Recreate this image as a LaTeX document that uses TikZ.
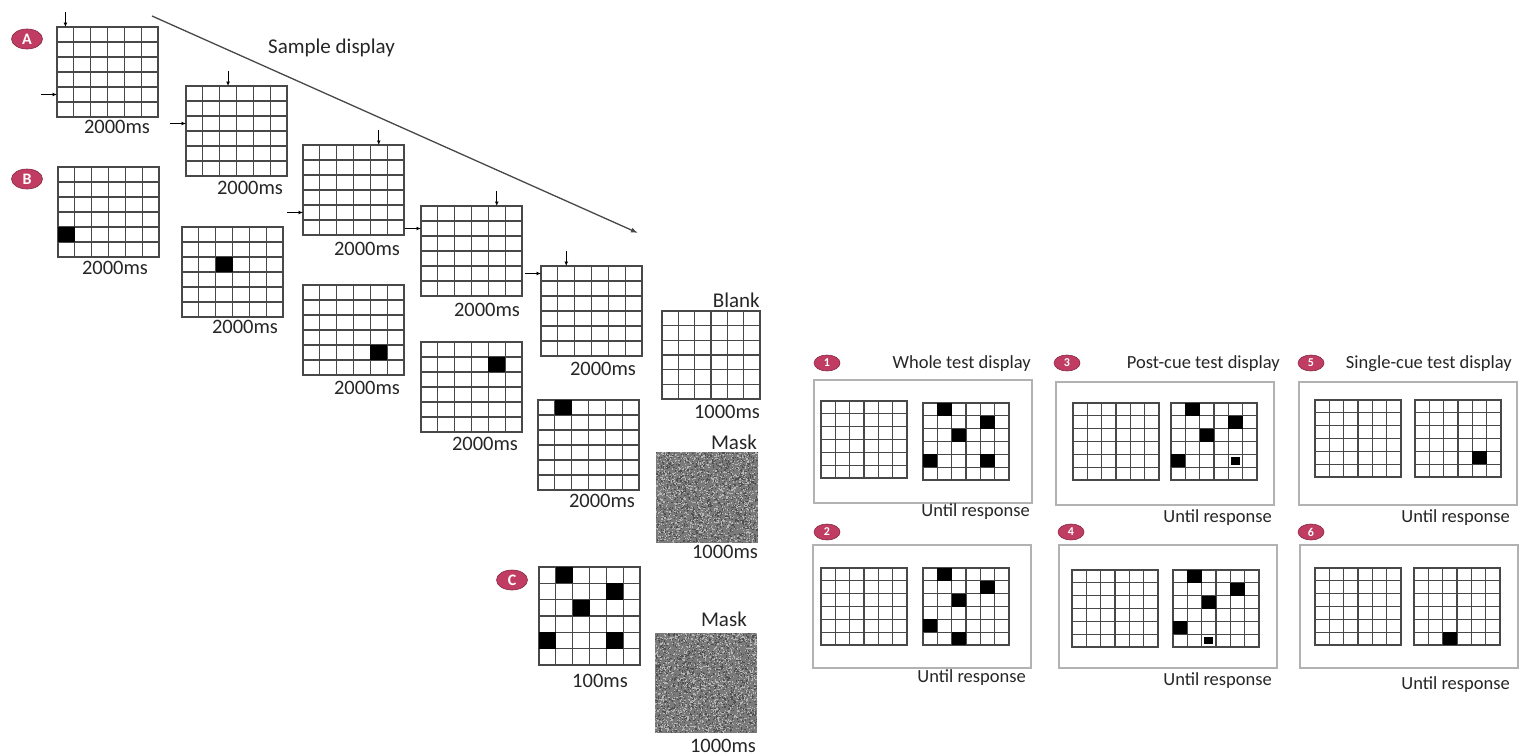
\documentclass[tikz,border=0pt]{standalone}
\usepackage{fontspec}
\setmainfont{Carlito}
\usetikzlibrary{arrows.meta,positioning,calc,shapes.geometric}

\definecolor{gridline}{RGB}{72,72,72}
\definecolor{boxline}{RGB}{178,178,178}
\definecolor{tagred}{RGB}{192,60,98}
\definecolor{noisebase}{RGB}{122,122,122}

\newcommand{\cuecell}[3]{%
  \fill[black] let \p1=(#1.north west), \p2=(#1.south east) in
    ({\x1+#3*(\x2-\x1)/6},{\y1-#2*(\y1-\y2)/6}) rectangle ({\x1+(#3+1)*(\x2-\x1)/6},{\y1-(#2+1)*(\y1-\y2)/6});}
\newcommand{\probecell}[3]{%
  \fill[black] let \p1=(#1.north west), \p2=(#1.south east) in
    ({\x1+(#3+0.18)*(\x2-\x1)/6},{\y1-(#2+0.2)*(\y1-\y2)/6}) rectangle ({\x1+(#3+0.82)*(\x2-\x1)/6},{\y1-(#2+0.8)*(\y1-\y2)/6});}
\newcommand{\colcue}[2]{%
  \draw[cuearrow] let \p1=(#1.north west), \p2=(#1.north east) in
    ({\x1+(#2+0.5)*(\x2-\x1)/6},{\y1+15pt}) -- ({\x1+(#2+0.5)*(\x2-\x1)/6},{\y1});}
\newcommand{\rowcue}[2]{%
  \draw[cuearrow] let \p1=(#1.north west), \p2=(#1.south west) in
    ({\x1-16pt},{\y1-(#2+0.5)*(\y1-\y2)/6}) -- ({\x1},{\y1-(#2+0.5)*(\y1-\y2)/6});}

\begin{document}
\begin{tikzpicture}[x=1pt,y=-1pt,
  gridbox/.style={draw=gridline, line width=1.3pt, fill=white, inner sep=0pt, outer sep=0pt, anchor=north west,
    path picture={
      \foreach \k in {1,...,5}{
        \draw[gridline, line width=1.3pt] ($(path picture bounding box.north west)!\k/6!(path picture bounding box.north east)$) -- ($(path picture bounding box.south west)!\k/6!(path picture bounding box.south east)$);
        \draw[gridline, line width=1.3pt] ($(path picture bounding box.north west)!\k/6!(path picture bounding box.south west)$) -- ($(path picture bounding box.north east)!\k/6!(path picture bounding box.south east)$);
      }}},
  biggrid/.style={gridbox, minimum width=101pt, minimum height=90pt},
  smallgrid/.style={gridbox, minimum width=86pt, minimum height=77pt},
  noisebox/.style={fill=noisebase, inner sep=0pt, outer sep=0pt, anchor=north west, minimum width=102pt,
    path picture={
      \foreach \k in {1,...,1600}{
        \fill[white!45!noisebase] ($(path picture bounding box.south west)+(rnd*102pt,rnd*100pt)$) rectangle ++(1.2pt,1.2pt);}
      \foreach \k in {1,...,1200}{
        \fill[black!35!noisebase] ($(path picture bounding box.south west)+(rnd*102pt,rnd*100pt)$) rectangle ++(1.2pt,1.2pt);}
    }},
  panel/.style={draw=boxline, line width=1.5pt, inner sep=0pt, anchor=north west, minimum width=218pt, minimum height=123pt},
  tag/.style={ellipse, fill=tagred, draw=tagred!70!black, line width=0.6pt, text=white, inner sep=0pt,
    minimum width=31pt, minimum height=20pt, font=\bfseries\fontsize{16}{16}\selectfont},
  numtag/.style={tag, minimum width=26pt, minimum height=16pt, font=\bfseries\fontsize{12}{12}\selectfont},
  timelbl/.style={anchor=base, inner sep=0pt, font=\fontsize{20.5}{24}\selectfont, text=black!85},
  headlbl/.style={anchor=base east, inner sep=0pt, font=\fontsize{21}{24}\selectfont, text=black!85},
  testlbl/.style={anchor=base east, inner sep=0pt, font=\fontsize{18.5}{22}\selectfont, text=black!85},
  cuearrow/.style={draw=black, line width=1pt, -{Latex[length=4.5pt,width=4pt]}}]
  \pgfmathsetseed{11}
  \fill[white] (0,0) rectangle (1531,755);
  \useasboundingbox (0,0) rectangle (1531,755);

  \node[tag] (tagA) at (27,39) {A};
  \node[tag] (tagB) at (27,179) {B};
  \node[tag] (tagC) at (512,580) {C};

  \node[biggrid] (a1) at (57,27) {};
  \node[biggrid] (a2) at (186,86) {};
  \node[biggrid] (a3) at (303,145) {};
  \node[biggrid] (a4) at (421,206) {};
  \node[biggrid] (a5) at (541,266) {};
  \colcue{a1}{0} \rowcue{a1}{4}
  \colcue{a2}{2} \rowcue{a2}{2}
  \colcue{a3}{4} \rowcue{a3}{4}
  \colcue{a4}{4} \rowcue{a4}{1}
  \colcue{a5}{1} \rowcue{a5}{0}

  \coordinate (diagstart) at (152,16);
  \coordinate (diagend) at (638,233);
  \draw[gridline, line width=1.3pt, -{Latex[length=7pt,width=5pt]}] (diagstart) -- (diagend);
  \node[headlbl] (sample) at (395,53) {Sample display};

  \node[biggrid] (b1) at (58,167) {};
  \node[biggrid] (b2) at (182,227) {};
  \node[biggrid] (b3) at (303,285) {};
  \node[biggrid] (b4) at (421,342) {};
  \node[biggrid] (b5) at (538,400) {};
  \cuecell{b1}{4}{0}
  \cuecell{b2}{2}{2}
  \cuecell{b3}{4}{4}
  \cuecell{b4}{1}{4}
  \cuecell{b5}{0}{1}

  \node[timelbl] (a1t) at (117,133) {2000ms};
  \node[timelbl] (a2t) at (250,194) {2000ms};
  \node[timelbl] (a3t) at (367,255) {2000ms};
  \node[timelbl] (a4t) at (487,316) {2000ms};
  \node[timelbl] (a5t) at (603,375) {2000ms};
  \node[timelbl] (b1t) at (115,274) {2000ms};
  \node[timelbl] (b2t) at (245,333) {2000ms};
  \node[timelbl] (b3t) at (367,394) {2000ms};
  \node[timelbl] (b4t) at (485,450) {2000ms};
  \node[timelbl] (b5t) at (602,507) {2000ms};

  \node[biggrid, minimum width=98pt, minimum height=88pt] (blank) at (662,311) {};
  \node[headlbl] (blanklbl) at (760,307) {Blank};
  \node[timelbl] (blankt) at (727,418) {1000ms};

  \node[noisebox, minimum height=91pt] (mask1) at (656,452) {};
  \node[headlbl] (mask1lbl) at (757,449) {Mask};
  \node[timelbl] (mask1t) at (725,558) {1000ms};

  \node[biggrid, minimum height=98pt] (cgrid) at (539,567) {};
  \cuecell{cgrid}{0}{1} \cuecell{cgrid}{1}{4} \cuecell{cgrid}{2}{2}
  \cuecell{cgrid}{4}{0} \cuecell{cgrid}{4}{4}
  \node[timelbl] (cgridt) at (600,687) {100ms};

  \node[noisebox, minimum height=100pt] (mask2) at (655,633) {};
  \node[headlbl] (mask2lbl) at (747,626) {Mask};
  \node[timelbl] (mask2t) at (723,752) {1000ms};

  \node[panel] (p1) at (813,379) {};
  \node[panel] (p3) at (1055,381) {};
  \node[panel] (p5) at (1298,381) {};
  \node[panel] (p2) at (812,544) {};
  \node[panel] (p4) at (1058,544) {};
  \node[panel] (p6) at (1299,544) {};

  \node[numtag] (tag1) at (827,363) {1};
  \node[numtag] (tag3) at (1067,363) {3};
  \node[numtag] (tag5) at (1311,363) {5};
  \node[numtag] (tag2) at (827,532) {2};
  \node[numtag] (tag4) at (1071,532) {4};
  \node[numtag] (tag6) at (1311,532) {6};

  \node[testlbl] (p1head) at (1031,368) {Whole test display};
  \node[testlbl] (p3head) at (1280,368) {Post-cue test display};
  \node[testlbl] (p5head) at (1512,368) {Single-cue test display};
  \node[testlbl] (p1resp) at (1030,516) {Until response};
  \node[testlbl] (p3resp) at (1272,522) {Until response};
  \node[testlbl] (p5resp) at (1510,522) {Until response};
  \node[testlbl] (p2resp) at (1026,682) {Until response};
  \node[testlbl] (p4resp) at (1272,685) {Until response};
  \node[testlbl] (p6resp) at (1510,689) {Until response};

  \node[smallgrid] (p1l) at (821,401) {};
  \node[smallgrid] (p1r) at (923,403) {};
  \node[smallgrid] (p3l) at (1073,403) {};
  \node[smallgrid] (p3r) at (1171,403) {};
  \node[smallgrid] (p5l) at (1315,400) {};
  \node[smallgrid] (p5r) at (1415,400) {};
  \node[smallgrid] (p2l) at (821,568) {};
  \node[smallgrid] (p2r) at (923,568) {};
  \node[smallgrid] (p4l) at (1072,570) {};
  \node[smallgrid] (p4r) at (1173,570) {};
  \node[smallgrid] (p6l) at (1315,568) {};
  \node[smallgrid] (p6r) at (1414,568) {};

  \foreach \g in {p1r,p2r,p3r,p4r}{
    \cuecell{\g}{0}{1} \cuecell{\g}{1}{4} \cuecell{\g}{2}{2} \cuecell{\g}{4}{0}}
  \cuecell{p1r}{4}{4}
  \probecell{p3r}{4}{4}
  \cuecell{p5r}{4}{4}
  \cuecell{p2r}{5}{2}
  \probecell{p4r}{5}{2}
  \cuecell{p6r}{5}{2}
\end{tikzpicture}
\end{document}
